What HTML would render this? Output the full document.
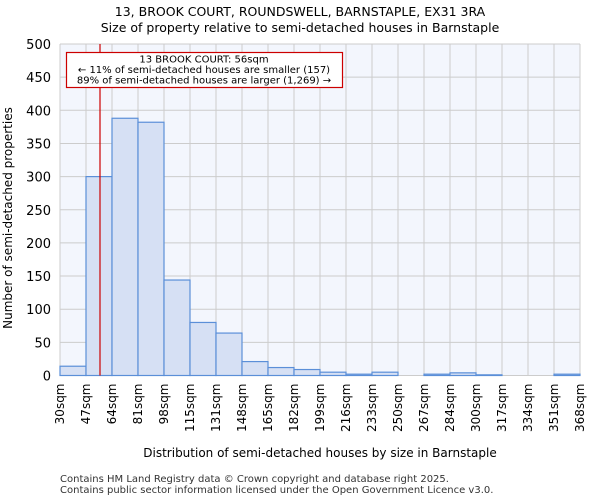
<!DOCTYPE html>
<html><head><meta charset="utf-8"><style>
body{margin:0;background:#fff;font-family:"DejaVu Sans","Liberation Sans",sans-serif}
</style></head><body>
<svg width="600" height="500" xmlns="http://www.w3.org/2000/svg" font-family="DejaVu Sans, Liberation Sans, sans-serif">
<text x="300" y="16" text-anchor="middle" font-size="12.5">13, BROOK COURT, ROUNDSWELL, BARNSTAPLE, EX31 3RA</text>
<text x="300" y="32" text-anchor="middle" font-size="12.5">Size of property relative to semi-detached houses in Barnstaple</text>
<rect x="60" y="44" width="520" height="331.5" fill="#f3f6fd"/>
<g id="grid"></g>
<g id="bars"></g>
<g id="axes"></g>
<line x1="100" y1="44" x2="100" y2="375.5" stroke="#cc0000" stroke-width="1.2"/>
<g>
<rect x="66.5" y="52.5" width="276" height="35" fill="#fff" stroke="#cc0000" stroke-width="1.2"/>
<text x="204" y="62.5" text-anchor="middle" font-size="10">13 BROOK COURT: 56sqm</text>
<text x="204" y="73" text-anchor="middle" font-size="10">← 11% of semi-detached houses are smaller (157)</text>
<text x="204" y="83.5" text-anchor="middle" font-size="10">89% of semi-detached houses are larger (1,269) →</text>
</g>
<text x="320" y="457" text-anchor="middle" font-size="12">Distribution of semi-detached houses by size in Barnstaple</text>
<text transform="translate(12,218) rotate(-90)" text-anchor="middle" font-size="12">Number of semi-detached properties</text>
<text x="60" y="482" font-size="10" fill="#333">Contains HM Land Registry data © Crown copyright and database right 2025.</text>
<text x="60" y="493" font-size="10" fill="#333">Contains public sector information licensed under the Open Government Licence v3.0.</text>
</svg>
<script>
const binLabels=["30sqm","47sqm","64sqm","81sqm","98sqm","115sqm","131sqm","148sqm","165sqm","182sqm","199sqm","216sqm","233sqm","250sqm","267sqm","284sqm","300sqm","317sqm","334sqm","351sqm","368sqm"];
const counts=[14,300,388,382,144,80,64,21,12,9,5,2,5,0,2,4,1,0,0,2];
const yTicks=[0,50,100,150,200,250,300,350,400,450,500];
const NS="http://www.w3.org/2000/svg";
const L=60,R=580,T=44,B=375.5,yMax=500;
const n=counts.length,bw=(R-L)/n;
const xS=i=>L+i*bw, yS=v=>B-(v/yMax)*(B-T);
function mk(tag,attrs,parent){const e=document.createElementNS(NS,tag);for(const k in attrs)e.setAttribute(k,attrs[k]);document.getElementById(parent).appendChild(e);return e;}
yTicks.forEach(v=>{
 const g=mk('line',{x1:L,x2:R,y1:yS(v),y2:yS(v),stroke:'#ccc','stroke-width':1},'grid');
 
 
 const t=mk('text',{x:L-9,y:yS(v)+5,'text-anchor':'end','font-size':13},'axes');
 t.textContent=v;
 
 
});
binLabels.forEach((s,i)=>{
 const g=mk('line',{x1:xS(i),x2:xS(i),y1:T,y2:B,stroke:'#ccc','stroke-width':1},'grid');
 
 
 const x=xS(i)+4;
 const t=mk('text',{x:x,y:B+8,'text-anchor':'end','font-size':12,transform:`rotate(-90 ${x} ${B+8})`},'axes');
 t.textContent=s;
 
 
});
counts.forEach((c,i)=>{
 const r=mk('rect',{x:xS(i),y:yS(c),width:bw,height:B-yS(c),fill:'#d6e0f4',stroke:'#5b8fd8','stroke-width':1.2},'bars');
 
 
});
</script>
</body></html>
